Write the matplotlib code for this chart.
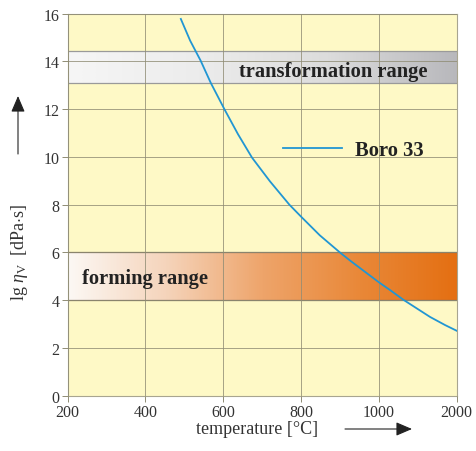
import numpy as np
import matplotlib
matplotlib.use("Agg")
import matplotlib.pyplot as plt
from matplotlib.colors import LinearSegmentedColormap

# Viscosity curve of Boro 33
temps = [491, 515, 542, 568, 603, 638, 674, 720, 770, 800, 848, 902,
         926, 1000, 1150, 1314, 1657, 1850, 2000]
lg_eta = [15.78, 14.87, 14.03, 13.1, 12.0, 10.95, 9.97, 8.98, 8.0, 7.5,
          6.72, 5.97, 5.66, 4.75, 4.41, 4.02, 3.30, 2.96, 2.72]

x_ticks = [200, 400, 600, 800, 1000, 2000]
y_ticks = [0, 2, 4, 6, 8, 10, 12, 14, 16]
transform_range = (13.1, 14.45)
forming_range = (4.0, 6.0)

plt.rcParams["font.family"] = ["Liberation Serif", "DejaVu Serif"]
plt.rcParams["mathtext.fontset"] = "custom"
plt.rcParams["mathtext.rm"] = "Liberation Serif"
plt.rcParams["mathtext.it"] = "Liberation Serif:italic"

pos = np.arange(len(x_ticks))


def fwd(t):
    return np.interp(t, x_ticks, pos)


def inv(p):
    return np.interp(p, pos, x_ticks)


fig = plt.figure(figsize=(4.76, 4.52), dpi=100)
ax = fig.add_axes([0.142, 0.1223, 0.8175, 0.8452])
ax.set_xscale("function", functions=(fwd, inv))
ax.set_facecolor("#fef9c6")

# gradient columns are uniform in temperature, so colour them by axis position
t_grid = np.linspace(200, 2000, 1801)
grad = (fwd(t_grid) / (len(x_ticks) - 1)).reshape(1, -1)
grey_cmap = LinearSegmentedColormap.from_list(
    "g", ["#f6f6f6", "#ececec", "#dcdcdc", "#b8b8bc"])
orange_cmap = LinearSegmentedColormap.from_list(
    "o", ["#fcf8f4", "#f5d4bb", "#eea46a", "#e98838", "#e46f12"])

ax.imshow(grad, extent=(200, 2000, *transform_range), aspect="auto",
          cmap=grey_cmap, zorder=1, interpolation="bilinear")
ax.imshow(grad, extent=(200, 2000, *forming_range), aspect="auto",
          cmap=orange_cmap, zorder=1, interpolation="bilinear")
for yb in transform_range:
    ax.axhline(yb, color="#9a9a9a", lw=0.9, zorder=1.5)
for yb in forming_range:
    ax.axhline(yb, color="#7d6a58", lw=0.9, zorder=1.5)

ax.grid(True, color="#8f8c74", lw=0.7, alpha=0.8, zorder=2)
ax.set_axisbelow(False)

ax.plot(temps, lg_eta, color="#2196d3", lw=1.3, zorder=3, label="Boro 33")

ax.set_xlim(200, 2000)
ax.set_ylim(0, 16)
ax.set_xticks(x_ticks)
ax.set_xticklabels([str(t) for t in x_ticks])
ax.set_yticks(y_ticks)
ax.minorticks_off()
ax.tick_params(labelsize=11.5, colors="#8f8c74", labelcolor="#333333",
               length=4, width=0.7, pad=2)
for sp in ax.spines.values():
    sp.set_color("#a8a590")
    sp.set_linewidth(0.8)

ax.text(1630, 13.62, "transformation range", fontsize=14.8, fontweight="bold",
        ha="right", va="center", color="#222222", zorder=4)
ax.text(237, 4.92, "forming range", fontsize=14.8, fontweight="bold",
        ha="left", va="center", color="#222222", zorder=4)

leg = ax.legend(loc="center left", bbox_to_anchor=(0.553, 0.643), frameon=False,
                borderpad=0, borderaxespad=0, handlelength=2.9, handletextpad=0.6,
                prop={"family": "Liberation Serif", "weight": "bold", "size": 14.8})
for t in leg.get_texts():
    t.set_color("#222222")

fig.text(20 / 476, 1 - 252 / 452, r"lg $\eta_\mathrm{V}$  [dPa$\cdot$s]",
         rotation=90, ha="center", va="center", fontsize=13, color="#333333")
fig.text(257 / 476, 1 - 430 / 452, "temperature [°C]", ha="center", va="center",
         fontsize=13, color="#333333")

arrow = dict(arrowstyle="-|>,head_length=0.7,head_width=0.3", color="#222222",
             lw=0.8, mutation_scale=14, shrinkA=0, shrinkB=0)
ax.annotate("", xy=(18, 452 - 97), xytext=(18, 452 - 155),
            xycoords="figure pixels", textcoords="figure pixels", arrowprops=arrow)
ax.annotate("", xy=(412, 452 - 430), xytext=(345, 452 - 430),
            xycoords="figure pixels", textcoords="figure pixels", arrowprops=arrow)

fig.savefig("out.png", dpi=100)
